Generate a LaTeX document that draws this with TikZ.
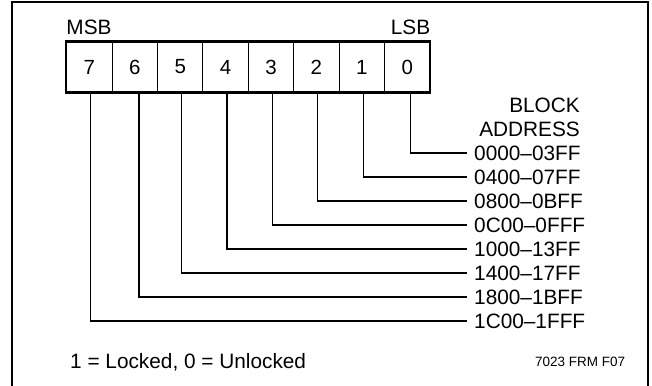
\documentclass[tikz,border=0pt]{standalone}
\usepackage{fontspec}
\setmainfont{Liberation Sans}
\begin{document}
\begin{tikzpicture}[x=1pt,y=-1pt,
  bitcell/.style={draw,line width=0.9pt,minimum width=45.4pt,minimum height=50pt,inner sep=0pt,font=\fontsize{20.5}{24}\selectfont},
  addr/.style={anchor=west,inner xsep=7pt,inner ysep=0pt,font=\fontsize{20.8}{24}\selectfont},
  conn/.style={line width=1.3pt},
  big/.style={font=\fontsize{20.8}{24}\selectfont}]
\useasboundingbox (0,0) rectangle (652,385);
% frame
\draw[line width=2pt] (12,386) -- (12,2) -- (648,2) -- (648,386);
% bit cells
\foreach \b/\k in {7/0,6/1,5/2,4/3,3/4,2/5,1/6,0/7}{
  \node[bitcell] (b\b) at ({89.4+45.4*\k},67) {\b};
}
\draw[line width=2.2pt] (b7.north west) rectangle (b0.south east);
\node[big,anchor=base west,inner sep=0pt] (msb) at ([yshift=7pt]b7.north west) {MSB};
\node[big,anchor=base east,inner sep=0pt] (lsb) at ([yshift=7pt]b0.north east) {LSB};
% block address
\node[big,align=right,anchor=east,inner sep=0pt] (ba) at (580,117) {\fontsize{20.8}{20}\selectfont BLOCK\\ADDRESS};
% address labels
\foreach \b/\t/\y in {0/0000--03FF/153,1/0400--07FF/177,2/0800--0BFF/201,3/0C00--0FFF/225,4/1000--13FF/249,5/1400--17FF/273,6/1800--1BFF/297,7/1C00--1FFF/321}{
  \node[addr] (l\b) at (467,\y) {\t};
}
% connectors
\foreach \b/\dx in {7/1.3,6/4.2,5/1.5,4/1.4,3/1.7,2/1.3,1/1.5,0/3.5}{
  \draw[conn] ([xshift=\dx pt]b\b.south) |- (l\b.west);
}
% legend
\node[big,anchor=west,inner sep=0pt] (legend) at (70,362) {1 = Locked, 0 = Unlocked};
\node[anchor=west,inner sep=0pt,font=\fontsize{13.5}{16}\selectfont] (fig) at (535,362) {7023 FRM F07};
\end{tikzpicture}
\end{document}
